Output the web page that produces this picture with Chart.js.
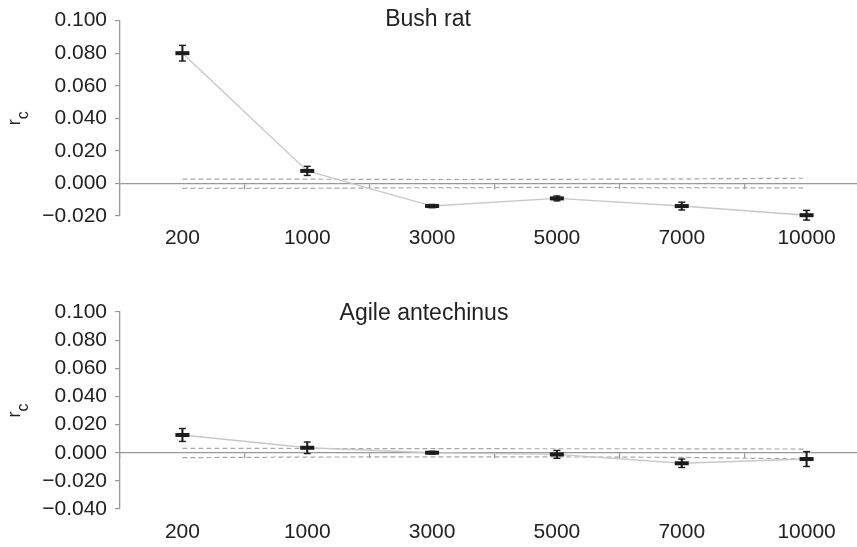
<!DOCTYPE html>
<html>
<head>
<meta charset="utf-8">
<script src="https://cdn.jsdelivr.net/npm/chart.js@4/dist/chart.umd.min.js"></script>
<style>
    html, body { margin: 0; padding: 0; background: #fff; overflow: hidden; width: 857px; height: 547px; }
    canvas { position: absolute; left: 0; }
    #bushRatChart { top: 0; }
    #antechinusChart { top: 256px; }
</style>
</head>
<body>
<canvas id="bushRatChart" width="880" height="256"></canvas>
<canvas id="antechinusChart" width="880" height="291"></canvas>
<script>
"use strict";

/** DATA */

const DISTANCES = ['200', '1000', '3000', '5000', '7000', '10000'];

// Bush rat
const BUSH_RAT_RC = [0.080, 0.0077, -0.0139, -0.0092, -0.0139, -0.0195];
const BUSH_RAT_ERR = [0.0048, 0.0028, 0.0010, 0.0015, 0.0024, 0.0030];
const BUSH_RAT_UPPER = [0.0027, 0.0026, 0.0024, 0.0025, 0.0028, 0.0032];
const BUSH_RAT_LOWER = [-0.0030, -0.0030, -0.0026, -0.0024, -0.0026, -0.0028];

// Agile antechinus
const ANTECHINUS_RC = [0.0126, 0.0035, 0.0000, -0.0012, -0.0075, -0.0045];
const ANTECHINUS_ERR = [0.0046, 0.0041, 0.0010, 0.0028, 0.0030, 0.0053];
const ANTECHINUS_UPPER = [0.0031, 0.0030, 0.0029, 0.0028, 0.0028, 0.0026];
const ANTECHINUS_LOWER = [-0.0035, -0.0031, -0.0029, -0.0030, -0.0033, -0.0045];

/** STYLE */

const FONT = '"Liberation Sans", Arial, Helvetica, sans-serif';
const TEXT = '#222';
const AXIS = '#999';
const MARK = '#1c1c1c';

const formatTick = v => (Math.abs(v) < 1e-9 ? 0 : v).toFixed(3).replace('-', '\u2212');

// Panel title and the subscripted r_c axis title
const panelText = {
    id: 'panelText',
    afterDraw: (chart, args, opts) => {
        const ctx = chart.ctx;
        const area = chart.chartArea;
        ctx.save();
        ctx.fillStyle = TEXT;
        ctx.textAlign = 'center';
        ctx.textBaseline = 'middle';
        ctx.font = `23px ${ FONT }`;
        ctx.fillText(opts.title, opts.titleX, opts.titleY);

        // r with subscript c, rotated
        ctx.translate(20, (area.top + area.bottom) / 2);
        ctx.rotate(-Math.PI / 2);
        ctx.textAlign = 'left';
        ctx.textBaseline = 'alphabetic';
        ctx.font = `18px ${ FONT }`;
        const rW = ctx.measureText('r').width;
        ctx.font = `16px ${ FONT }`;
        const cW = ctx.measureText('c').width;
        const start = -(rW + cW) / 2;
        ctx.font = `18px ${ FONT }`;
        ctx.fillText('r', start, 0);
        ctx.font = `16px ${ FONT }`;
        ctx.fillText('c', start + rW, 8);
        ctx.restore();
    }
};

/** BUILD A PANEL */

const buildPanel = (canvasId, values, errors, upper, lower, yMin, padding, xHeight, xPad, text) => {
    return new Chart(document.getElementById(canvasId).getContext('2d'), {
        type: 'line',
        data: {
            labels: DISTANCES,
            datasets: [
                // markers
                {
                    data: values,
                    showLine: false,
                    pointStyle: 'line',
                    pointRadius: 7,
                    pointBorderWidth: 4,
                    pointBorderColor: MARK,
                    clip: false,
                    order: 1
                },
                // error bar caps
                {
                    data: values.map((v, i) => v + errors[i]),
                    showLine: false,
                    pointStyle: 'line',
                    pointRadius: 3.5,
                    pointBorderWidth: 1.4,
                    pointBorderColor: MARK,
                    clip: false,
                    order: 2
                },
                {
                    data: values.map((v, i) => v - errors[i]),
                    showLine: false,
                    pointStyle: 'line',
                    pointRadius: 3.5,
                    pointBorderWidth: 1.4,
                    pointBorderColor: MARK,
                    clip: false,
                    order: 2
                },
                // error bar stems
                {
                    type: 'bar',
                    data: values.map((v, i) => [v - errors[i], v + errors[i]]),
                    backgroundColor: MARK,
                    barThickness: 1.4,
                    grouped: false,
                    clip: false,
                    order: 3
                },
                // connecting line
                {
                    data: values,
                    borderColor: '#c8c8c8',
                    borderWidth: 1.4,
                    pointRadius: 0,
                    tension: 0,
                    clip: false,
                    order: 4
                },
                // dashed envelope
                {
                    data: upper,
                    borderColor: '#a8a8a8',
                    borderWidth: 1.2,
                    borderDash: [5, 3],
                    pointRadius: 0,
                    order: 5
                },
                {
                    data: lower,
                    borderColor: '#a8a8a8',
                    borderWidth: 1.2,
                    borderDash: [5, 3],
                    pointRadius: 0,
                    order: 5
                }
            ]
        },
        options: {
            responsive: false,
            animation: false,
            layout: { padding: padding },
            scales: {
                x: {
                    type: 'category',
                    position: 'bottom',
                    offset: true,
                    grid: { display: false, drawTicks: false },
                    border: { display: false },
                    ticks: {
                        padding: xPad,
                        color: TEXT,
                        font: { family: FONT, size: 21 },
                        maxRotation: 0,
                        autoSkip: false
                    },
                    afterFit: scale => { scale.height = xHeight; }
                },
                // zero line with category boundary ticks
                x0: {
                    type: 'category',
                    axis: 'x',
                    position: { y: 0 },
                    offset: true,
                    grid: {
                        display: true,
                        drawOnChartArea: false,
                        drawTicks: true,
                        tickLength: 5,
                        offset: true,
                        color: AXIS,
                        lineWidth: 1.2
                    },
                    border: { display: true, color: AXIS, width: 1.3 },
                    ticks: { display: false },
                    afterFit: scale => { scale.height = 0; }
                },
                y: {
                    min: yMin,
                    max: 0.1,
                    grid: {
                        display: true,
                        drawOnChartArea: false,
                        drawTicks: true,
                        tickLength: 5,
                        color: AXIS,
                        lineWidth: 1.2
                    },
                    border: { display: true, color: AXIS, width: 1.3 },
                    ticks: {
                        stepSize: 0.02,
                        autoSkip: false,
                        padding: 8,
                        color: TEXT,
                        font: { family: FONT, size: 21 },
                        callback: formatTick
                    },
                    afterFit: scale => { scale.width = 120; }
                }
            },
            plugins: {
                legend: { display: false },
                tooltip: { enabled: false },
                panelText: text
            }
        },
        plugins: [panelText]
    });
};

/** INITIALIZE CHARTS */

buildPanel('bushRatChart', BUSH_RAT_RC, BUSH_RAT_ERR, BUSH_RAT_UPPER, BUSH_RAT_LOWER, -0.02,
    { top: 15, bottom: 5, left: 0, right: 0 }, 35, 10,
    { title: 'Bush rat', titleX: 428, titleY: 20 });

buildPanel('antechinusChart', ANTECHINUS_RC, ANTECHINUS_ERR, ANTECHINUS_UPPER, ANTECHINUS_LOWER, -0.04,
    { top: 56, bottom: 2, left: 0, right: 0 }, 36, 11,
    { title: 'Agile antechinus', titleX: 424, titleY: 58 });
</script>
</body>
</html>
